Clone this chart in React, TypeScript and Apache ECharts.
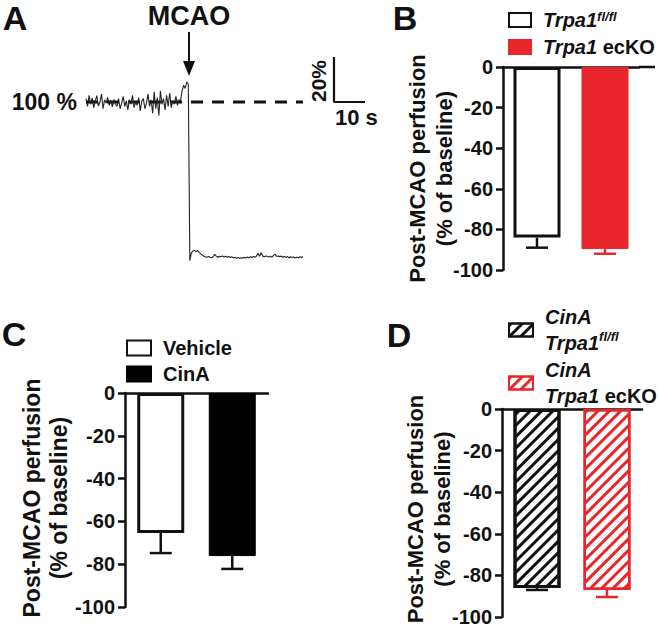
import React, { useEffect, useRef } from 'react';
import * as echarts from 'echarts';

const FONT = '"Liberation Sans", Arial, Helvetica, sans-serif';
const RED = '#e8262b';
const INK = '#111111';

// Panel A: laser speckle trace (% of baseline), sampled every 0.5 s
const traceInterval = 0.5;
const traceValues = [
  // pre-MCAO (0 - 33 s)
  101.5, 98.0, 103.0, 99.0, 101.8, 97.5, 100.5, 102.8, 98.2, 100.0, 103.5, 97.0, 101.0, 99.5, 102.0, 98.5, 100.8, 97.8, 101.2, 99.0, 98.0,
  101.5, 97.0, 99.5, 102.5, 98.0, 100.5, 96.5, 101.0, 99.0, 103.0, 97.5, 100.0, 98.5, 102.0, 96.0, 100.5, 101.5, 97.0, 99.5, 103.5,
  98.0, 101.0, 95.0, 104.5, 97.0, 102.0, 94.0, 105.0, 99.0, 101.5, 96.5, 103.0, 98.0, 104.0, 97.5, 100.5, 99.0, 102.5, 98.5, 101.0,
  100.5, 105.0, 107.5, 106.0, 109.0, 108.0,
  // post-MCAO (33.5 - 70 s)
  29.5, 33.0, 33.8, 34.0, 33.5, 34.0, 33.2, 32.5, 32.0, 31.5, 31.2, 31.0, 31.3, 31.0, 30.8, 31.2, 32.3, 31.5, 31.0, 31.4,
  31.2, 31.6, 31.1, 31.4, 31.0, 31.3, 30.9, 31.2, 30.7, 31.0, 30.6, 30.9, 30.5, 30.8, 30.6, 31.0, 30.7, 31.1, 30.8, 31.2,
  30.9, 31.3, 31.0, 31.5, 32.8, 31.4, 33.0, 31.5, 31.2, 31.6, 31.3, 31.1, 31.5, 31.0, 31.8, 32.4, 31.3, 31.6, 31.2, 31.5,
  31.0, 31.4, 30.9, 31.3, 30.8, 31.2, 30.9, 31.1, 30.7, 31.0, 30.8, 31.2, 30.9, 31.3,
];
const baselinePercent = 100;
const scaleBarStart = 80; // s
const scaleBarTime = 10; // s
const scaleBarPercent = 20; // %

// Panels B-D: post-MCAO perfusion (% of baseline), mean and SEM
const bCategories = ['Trpa1 fl/fl', 'Trpa1 ecKO'];
const bMeans = [-84, -89.7];
const bSems = [5, 2.3];

const cCategories = ['Vehicle', 'CinA'];
const cMeans = [-65.4, -76.2];
const cSems = [9.4, 6];

const dCategories = ['CinA Trpa1 fl/fl', 'CinA Trpa1 ecKO'];
const dMeans = [-86.1, -87];
const dSems = [0.9, 3.4];

const yMin = -100;
const yMax = 0;
const yStep = 20;

const legendLabels: Record<string, string> = {
  'Trpa1 fl/fl': '{i|Trpa1}{s|fl/fl}',
  'Trpa1 ecKO': '{i|Trpa1}{b| ecKO}',
  Vehicle: '{b|Vehicle}',
  CinA: '{b|CinA}',
  'CinA Trpa1 fl/fl': '{i|CinA}\n{i|Trpa1}{s|fl/fl}',
  'CinA Trpa1 ecKO': '{i|CinA}\n{i|Trpa1}{b| ecKO}',
};

function richStyles(lineHeight: number) {
  return {
    b: { fontFamily: FONT, fontWeight: 'bold', fontSize: 20, color: INK, lineHeight },
    i: { fontFamily: FONT, fontWeight: 'bold', fontStyle: 'italic', fontSize: 20, color: INK, lineHeight },
    s: { fontFamily: FONT, fontWeight: 'bold', fontStyle: 'italic', fontSize: 13, color: INK, verticalAlign: 'top', lineHeight },
  };
}

function makeLegend(names: string[], left: number, top: number, w: number, h: number, gap: number, lineHeight: number) {
  return {
    data: names,
    orient: 'vertical',
    left,
    top,
    padding: 0,
    itemWidth: w,
    itemHeight: h,
    itemGap: gap,
    icon: 'rect',
    selectedMode: false,
    formatter: (name: string) => legendLabels[name],
    textStyle: { padding: [0, 0, 0, 7], lineHeight, rich: richStyles(lineHeight) },
  };
}

function makeXAxis(gridIndex: number, cats: string[]) {
  return {
    gridIndex,
    type: 'category',
    data: cats,
    axisLine: { show: true, onZero: true, lineStyle: { color: INK, width: 2.5 } },
    axisTick: { show: false },
    axisLabel: { show: false },
    splitLine: { show: false },
  };
}

function makeYAxis(gridIndex: number, nameGap: number, nameSize: number, shiftUp: number) {
  return {
    gridIndex,
    type: 'value',
    min: yMin,
    max: yMax,
    interval: yStep,
    axisLine: { show: true, lineStyle: { color: INK, width: 2.5 } },
    axisTick: { show: true, length: 7, lineStyle: { color: INK, width: 2.5 } },
    axisLabel: { margin: 10, fontFamily: FONT, fontWeight: 'bold', fontSize: 20, color: INK },
    splitLine: { show: false },
    name: 'Post-MCAO perfusion\n(% of baseline)',
    nameLocation: 'middle',
    nameRotate: 90,
    nameGap,
    nameMoveOverlap: false,
    nameTextStyle: {
      fontFamily: FONT,
      fontWeight: 'bold',
      fontSize: nameSize,
      color: INK,
      lineHeight: 27,
      padding: [0, 0, 0, shiftUp * 2],
    },
  };
}

function barSeries(axisIndex: number, cats: string[], means: number[], styles: any[]) {
  return cats.map((name, k) => ({
    name,
    type: 'bar',
    xAxisIndex: axisIndex,
    yAxisIndex: axisIndex,
    barWidth: 47,
    barGap: '-100%',
    data: means.map((m, j) => (j === k ? m : '-')),
    itemStyle: styles[k],
    z: 2,
  }));
}

function errorSeries(axisIndex: number, means: number[], sems: number[], colors: string[]) {
  return {
    name: 'err' + axisIndex,
    type: 'custom',
    xAxisIndex: axisIndex,
    yAxisIndex: axisIndex,
    data: means.map((m, j) => [j, m, m - sems[j]]),
    z: 5,
    renderItem: (params: any, api: any) => {
      const top = api.coord([api.value(0), api.value(1)]);
      const low = api.coord([api.value(0), api.value(2)]);
      const color = colors[params.dataIndex];
      const st = { stroke: color, lineWidth: 2.5, fill: 'none' };
      return {
        type: 'group',
        children: [
          { type: 'line', shape: { x1: top[0], y1: top[1], x2: low[0], y2: low[1] }, style: st },
          { type: 'line', shape: { x1: low[0] - 11, y1: low[1], x2: low[0] + 11, y2: low[1] }, style: st },
        ],
      };
    },
  };
}

function hatch(color: string) {
  return {
    symbol: 'rect',
    symbolSize: 1,
    dashArrayX: [1, 0],
    dashArrayY: [3, 5],
    rotation: -Math.PI / 4,
    color,
  };
}

function txt(text: string, x: number, y: number, size: number, align = 'center', extra: any = {}) {
  return {
    type: 'text',
    x,
    y,
    ...extra,
    style: {
      text,
      fill: INK,
      font: `bold ${size}px ${FONT}`,
      textAlign: align,
      textVerticalAlign: 'middle',
    },
    z: 10,
  };
}

export default function App() {
  const ref = useRef<HTMLDivElement>(null);
  useEffect(() => {
    document.body.style.margin = '0';
    if (!ref.current) return;
    const chart = echarts.init(ref.current, undefined, { renderer: 'svg' });

    const traceEnd = (traceValues.length - 1) * traceInterval;
    const option: any = {
      animation: false,
      backgroundColor: '#ffffff',
      grid: [
        { left: 86, top: 57, width: 285.2, height: 225, outerBoundsMode: 'none' },
        { left: 503, top: 67, width: 136, height: 203, outerBoundsMode: 'none' },
        { left: 125, top: 393, width: 143, height: 214, outerBoundsMode: 'none' },
        { left: 502, top: 409, width: 140, height: 208, outerBoundsMode: 'none' },
      ],
      xAxis: [
        { gridIndex: 0, type: 'value', min: 0, max: 92, show: false },
        makeXAxis(1, bCategories),
        makeXAxis(2, cCategories),
        makeXAxis(3, dCategories),
      ],
      yAxis: [
        { gridIndex: 0, type: 'value', min: 20, max: 120, show: false },
        makeYAxis(1, 45, 22, 0),
        makeYAxis(2, 53, 23, 2),
        makeYAxis(3, 46, 22, 4),
      ],
      legend: [
        makeLegend(bCategories, 508, 10, 22, 14, 7, 20),
        makeLegend(cCategories, 126, 338, 24, 15, 6, 20),
        makeLegend(dCategories, 508, 304, 24, 13, 1, 26),
      ],
      series: [
        {
          name: 'baseline',
          type: 'line',
          xAxisIndex: 0,
          yAxisIndex: 0,
          symbol: 'none',
          data: [
            [0, baselinePercent],
            [traceEnd, baselinePercent],
          ],
          lineStyle: { color: INK, width: 3, type: [12, 9] },
          z: 1,
        },
        {
          name: 'trace',
          type: 'line',
          xAxisIndex: 0,
          yAxisIndex: 0,
          symbol: 'none',
          data: traceValues.map((v, i) => [i * traceInterval, v]),
          lineStyle: { color: '#222', width: 1.1 },
          z: 3,
        },
        {
          name: 'scalebar',
          type: 'line',
          xAxisIndex: 0,
          yAxisIndex: 0,
          symbol: 'none',
          data: [
            [scaleBarStart, baselinePercent + scaleBarPercent],
            [scaleBarStart, baselinePercent],
            [scaleBarStart + scaleBarTime, baselinePercent],
          ],
          lineStyle: { color: INK, width: 2.2 },
          z: 3,
        },
        ...barSeries(1, bCategories, bMeans, [
          { color: '#fff', borderColor: INK, borderWidth: 3 },
          { color: RED, borderColor: RED, borderWidth: 1 },
        ]),
        errorSeries(1, bMeans, bSems, [INK, RED]),
        ...barSeries(2, cCategories, cMeans, [
          { color: '#fff', borderColor: INK, borderWidth: 3 },
          { color: '#000', borderColor: '#000', borderWidth: 1 },
        ]),
        errorSeries(2, cMeans, cSems, [INK, INK]),
        ...barSeries(3, dCategories, dMeans, [
          { color: '#fff', borderColor: INK, borderWidth: 3, decal: hatch(INK) },
          { color: '#fff', borderColor: RED, borderWidth: 2.5, decal: hatch(RED) },
        ]),
        errorSeries(3, dMeans, dSems, [INK, RED]),
      ],
      graphic: [
        txt('A', 15, 18, 34),
        txt('B', 405, 18, 34),
        txt('C', 14, 334, 34),
        txt('D', 399, 335, 34),
        txt('MCAO', 189, 16, 27),
        {
          type: 'line',
          shape: { x1: 189, y1: 32, x2: 189, y2: 66 },
          style: { stroke: INK, lineWidth: 2 },
          z: 10,
        },
        {
          type: 'polygon',
          shape: { points: [[183, 61], [195, 61], [189, 76]] },
          style: { fill: INK },
          z: 10,
        },
        txt('100 %', 77, 102, 23, 'right'),
        txt('20%', 318, 81, 21, 'center', { rotation: Math.PI / 2 }),
        txt('10 s', 335, 117, 22, 'left'),
        {
          type: 'line',
          shape: { x1: 639, y1: 67, x2: 655, y2: 67 },
          style: { stroke: INK, lineWidth: 2.5 },
          z: 10,
        },
      ],
    };
    chart.setOption(option);
    return () => chart.dispose();
  }, []);
  return <div ref={ref} style={{ width: 658, height: 626 }} />;
}
